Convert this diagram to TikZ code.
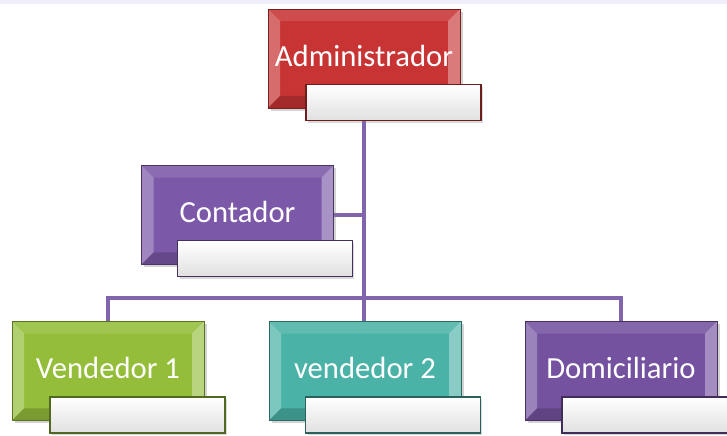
\documentclass[tikz,border=0pt]{standalone}
\usepackage{fontspec}
\setmainfont{Carlito}
\usetikzlibrary{shadows,backgrounds}
\definecolor{rojo}{RGB}{200,52,52}
\definecolor{morado}{RGB}{124,88,168}
\definecolor{verde}{RGB}{148,190,58}
\definecolor{turquesa}{RGB}{74,178,166}
\definecolor{violeta}{RGB}{116,82,160}
\definecolor{enlacec}{RGB}{128,100,172}
\definecolor{franja}{RGB}{240,238,250}

\begin{document}
\begin{tikzpicture}[
    x=0.75pt, y=-0.75pt,
    puesto/.style={draw=#1!60!black, fill=#1, minimum width=144pt,
      minimum height=74pt, inner sep=0pt, text=white,
      font=\fontsize{23}{26}\selectfont,
      drop shadow={opacity=0.35, shadow xshift=2pt, shadow yshift=-2pt},
      path picture={
        \fill[white, opacity=0.28] (path picture bounding box.north west)
          -- (path picture bounding box.south west)
          -- ([xshift=9pt,yshift=9pt]path picture bounding box.south west)
          -- ([xshift=9pt,yshift=-9pt]path picture bounding box.north west) -- cycle;
        \fill[white, opacity=0.35] (path picture bounding box.north east)
          -- (path picture bounding box.south east)
          -- ([xshift=-9pt,yshift=9pt]path picture bounding box.south east)
          -- ([xshift=-9pt,yshift=-9pt]path picture bounding box.north east) -- cycle;
        \fill[white, opacity=0.12] (path picture bounding box.north west)
          -- (path picture bounding box.north east)
          -- ([xshift=-9pt,yshift=-9pt]path picture bounding box.north east)
          -- ([xshift=9pt,yshift=-9pt]path picture bounding box.north west) -- cycle;
        \fill[black, opacity=0.18] (path picture bounding box.south west)
          -- (path picture bounding box.south east)
          -- ([xshift=-9pt,yshift=9pt]path picture bounding box.south east)
          -- ([xshift=9pt,yshift=9pt]path picture bounding box.south west) -- cycle;
      }},
    puesto/.default=rojo,
    ficha/.style={draw=#1!55!black, line width=1.2pt, top color=white,
      bottom color=black!12, minimum width=131pt, minimum height=27pt,
      drop shadow={opacity=0.3, shadow xshift=1.5pt, shadow yshift=-1.5pt}},
    enlace/.style={line width=3.6pt, color=enlacec}
  ]
    % fondo
    \useasboundingbox (0,0) rectangle (727,435);
    \fill[franja] (0,0) rectangle (727,4);

    % Nivel 1: Administrador
    \node[puesto=rojo] (admin) at (364,58.5) {\raisebox{4pt}{Administrador}};
    \node[ficha=rojo] (adminf) at (393.5,102.5) {};

    % Nivel 2: Contador
    \node[puesto=morado] (conta) at (237.5,215) {\raisebox{4pt}{Contador}};
    \node[ficha=morado] (contaf) at (265,258.5) {};

    % Nivel 3: personal
    \node[puesto=verde] (vend1) at (108,371) {\raisebox{4pt}{Vendedor 1}};
    \node[ficha=verde] (vend1f) at (137.5,415) {};
    \node[puesto=turquesa] (vend2) at (365,371) {\raisebox{4pt}{vendedor 2}};
    \node[ficha=turquesa] (vend2f) at (393,415) {};
    \node[puesto=violeta] (domi) at (621,371) {\raisebox{4pt}{Domiciliario}};
    \node[ficha=violeta] (domif) at (649.5,415) {};

    % Conectores
    \coordinate (nudo) at (364,298);
    \begin{scope}[on background layer]
      \draw[enlace] (admin.south) -- (nudo);
      \draw[enlace] (conta.east) -- (conta.east -| nudo);
      \draw[enlace] (vend1.north) |- (nudo) -| (domi.north);
      \draw[enlace] (nudo) -- (nudo |- vend2.north);
    \end{scope}
\end{tikzpicture}
\end{document}
